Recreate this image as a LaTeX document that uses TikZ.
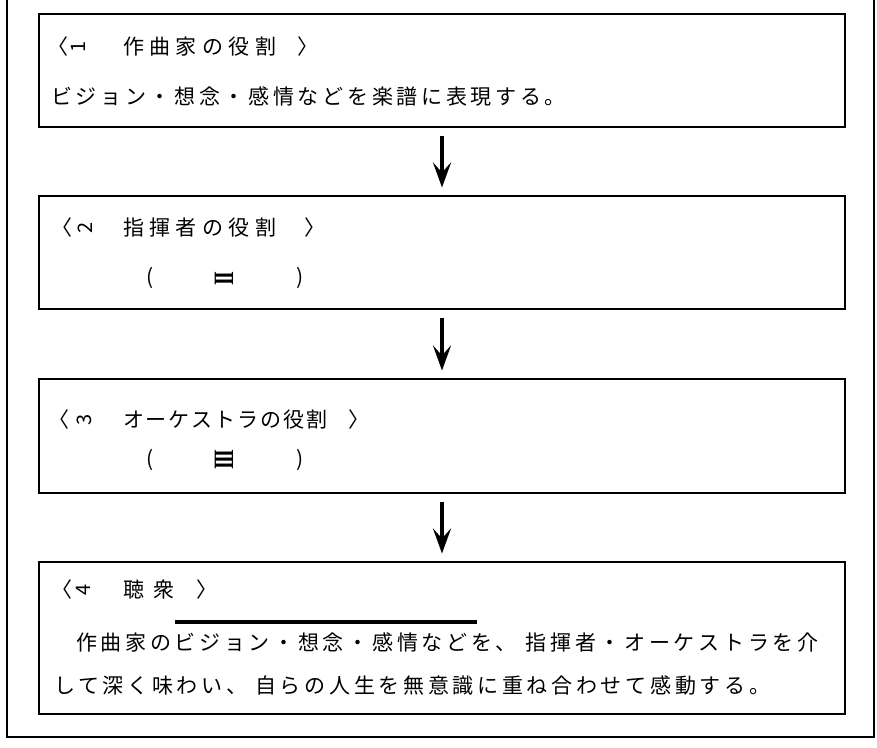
\documentclass[tikz,border=0pt]{standalone}
\usepackage{fontspec}
\setmainfont{Noto Sans CJK JP}[LetterSpace=17.6]
\newfontfamily\numfont{Noto Sans CJK JP}
\newfontfamily\romanfont{Liberation Serif}[LetterSpace=-9]
\usetikzlibrary{positioning,calc,arrows.meta}

\begin{document}
\begin{tikzpicture}[x=1pt, y=-1pt]
	\useasboundingbox (0,0) rectangle (877,747);
	\tikzstyle{every node}=[inner sep=0pt, outer sep=0pt]
	\tikzstyle{box}=[draw, line width=1.6pt, minimum width=806pt]
	\tikzstyle{jp}=[anchor=west, font=\fontsize{21}{25}\selectfont]
	\tikzstyle{sym}=[anchor=west, font=\numfont\fontsize{21}{25}\selectfont]
	\tikzstyle{paren}=[font=\numfont\fontsize{21}{25}\selectfont]
	\tikzstyle{num}=[rotate=90, font=\numfont\fontsize{20}{22}\selectfont]
	\tikzstyle{roman}=[rotate=90, font=\romanfont\bfseries\fontsize{20}{22}\selectfont]
	\tikzstyle{arr}=[-{Stealth[length=25pt,width=18pt,inset=10pt]}, line width=3.5pt, shorten <=8.5pt, shorten >=8.5pt]

	\draw[line width=1.6pt] (7,0) -- (7,737) -- (874,737) -- (874,0);

	\node[box, minimum height=113pt] (comp) at (442,70.5) {};
	\node[box, minimum height=113pt] (cond) at (442,252.5) {};
	\node[box, minimum height=114pt] (orch) at (442,436) {};
	\node[box, minimum height=152pt] (aud) at (442,638) {};

	\draw[arr] (comp) to (cond);
	\draw[arr] (cond) to (orch);
	\draw[arr] (orch) to (aud);

	\node[sym] (lb1) at (47,47) {〈};
	\node[num] (n1) at (78,47) {1};
	\node[jp] (comphead) at (123,47) {\addfontfeature{LetterSpace=26}作曲家の役割};
	\node[sym] (rb1) at (297,47) {〉};
	\node[jp] (comptxt) at (51,97) {ビジョン・想念・感情などを楽譜に表現する。};

	\node[sym] (lb2) at (51,228) {〈};
	\node[num] (n2) at (85,228) {2};
	\node[jp] (condhead) at (123,228) {\addfontfeature{LetterSpace=26}指揮者の役割};
	\node[sym] (rb2) at (304,228) {〉};
	\node[paren] (lp2) at (150,278) {(};
	\node[roman] (r2) at (224,279) {\scalebox{1}[1.4]{II}};
	\node[paren] (rp2) at (300,278) {)};

	\node[sym] (lb3) at (48,420) {〈};
	\node[num] (n3) at (84,420) {3};
	\node[jp] (orchhead) at (123,420) {\addfontfeature{LetterSpace=9}オーケストラの役割};
	\node[sym] (rb3) at (348,420) {〉};
	\node[paren] (lp3) at (150,460) {(};
	\node[roman] (r3) at (224,460) {\scalebox{1}[1.4]{III}};
	\node[paren] (rp3) at (300,460) {)};

	\node[sym] (lb4) at (51,590) {〈};
	\node[num] (n4) at (83,590) {4};
	\node[jp] (audhead) at (123,590) {聴\hspace{10pt}衆};
	\node[sym] (rb4) at (196,590) {〉};
	\node[jp] (audtxt1) at (76,642) {作曲家のビジョン・想念・感情などを、\hspace{9pt}指揮者・オーケストラを介};
	\node[jp] (audtxt2) at (54,685) {して深く味わい、\hspace{8pt}自らの人生を無意識に重ね合わせて感動する。};
	\draw[line width=3.5pt] (175,622) -- (477,622);
\end{tikzpicture}
\end{document}
